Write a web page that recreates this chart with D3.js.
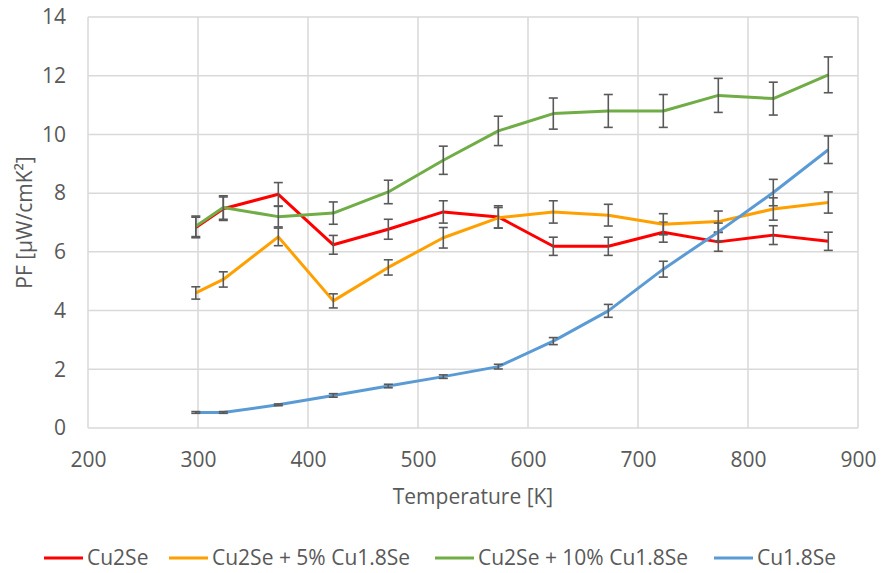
<!DOCTYPE html>
<html>
<head>
<meta charset="utf-8">
<script src="https://cdn.jsdelivr.net/npm/d3@7"></script>
<style>
  html, body { margin: 0; padding: 0; background: #fff; }
  svg { display: block; }
  text { font-family: "Open Sans", sans-serif; fill: #595959; }
</style>
</head>
<body>
<script>
// Temperatures (K) at which the power factor was measured
const temperatures = [298, 323, 373, 423, 473, 523, 573, 623, 673, 723, 773, 823, 873];

// Power factor (µW/cmK²) per sample, with symmetric error
const pfCu2Se      = [6.83, 7.47, 7.96, 6.24, 6.77, 7.36, 7.19, 6.19, 6.19, 6.67, 6.34, 6.57, 6.36];
const errCu2Se     = [0.35, 0.40, 0.40, 0.32, 0.34, 0.38, 0.38, 0.31, 0.31, 0.34, 0.32, 0.32, 0.31];
const pfMix5       = [4.60, 5.06, 6.51, 4.33, 5.47, 6.48, 7.16, 7.36, 7.25, 6.94, 7.03, 7.46, 7.68];
const errMix5      = [0.21, 0.26, 0.30, 0.24, 0.26, 0.35, 0.35, 0.38, 0.37, 0.36, 0.36, 0.38, 0.36];
const pfMix10      = [6.87, 7.51, 7.20, 7.32, 8.04, 9.12, 10.12, 10.71, 10.80, 10.80, 11.33, 11.22, 12.03];
const errMix10     = [0.35, 0.40, 0.35, 0.38, 0.40, 0.48, 0.50, 0.53, 0.56, 0.56, 0.58, 0.56, 0.61];
const pfCu18Se     = [0.53, 0.53, 0.79, 1.11, 1.43, 1.75, 2.09, 2.96, 3.99, 5.41, 6.68, 8.02, 9.48];
const errCu18Se    = [0.03, 0.03, 0.03, 0.06, 0.06, 0.06, 0.08, 0.12, 0.22, 0.27, 0.30, 0.45, 0.47];

const seriesNames  = ["Cu2Se", "Cu2Se + 5% Cu1.8Se", "Cu2Se + 10% Cu1.8Se", "Cu1.8Se"];
const seriesColors = ["#FF0000", "#FFA000", "#70AD47", "#5B9BD5"];

const xTicks = [200, 300, 400, 500, 600, 700, 800, 900];
const yTicks = [0, 2, 4, 6, 8, 10, 12, 14];

const series = [
  { name: seriesNames[0], color: seriesColors[0], values: pfCu2Se,  errors: errCu2Se },
  { name: seriesNames[1], color: seriesColors[1], values: pfMix5,   errors: errMix5 },
  { name: seriesNames[2], color: seriesColors[2], values: pfMix10,  errors: errMix10 },
  { name: seriesNames[3], color: seriesColors[3], values: pfCu18Se, errors: errCu18Se }
];

const W = 882, H = 573;
const plot = { left: 88, right: 858, top: 17, bottom: 428 };

const svg = d3.select("body").append("svg").attr("width", W).attr("height", H);

const x = d3.scaleLinear().domain([200, 900]).range([plot.left, plot.right]);
const y = d3.scaleLinear().domain([0, 14]).range([plot.bottom, plot.top]);

// Gridlines
const grid = svg.append("g");
grid.selectAll("line.h").data(yTicks).join("line")
  .attr("x1", plot.left).attr("x2", plot.right)
  .attr("y1", d => y(d)).attr("y2", d => y(d))
  .attr("stroke", "#D9D9D9").attr("stroke-width", 1.5);
grid.selectAll("line.v").data(xTicks).join("line")
  .attr("y1", plot.top).attr("y2", plot.bottom)
  .attr("x1", d => x(d)).attr("x2", d => x(d))
  .attr("stroke", "#D9D9D9").attr("stroke-width", 1.5);

// Axes (labels only; lines come from the grid)
const xAxis = svg.append("g")
  .attr("transform", `translate(0,${plot.bottom})`)
  .call(d3.axisBottom(x).tickValues(xTicks).tickSize(0).tickPadding(24).tickFormat(d3.format("d")));
const yAxis = svg.append("g")
  .attr("transform", `translate(${plot.left},0)`)
  .call(d3.axisLeft(y).tickValues(yTicks).tickSize(0).tickPadding(22).tickFormat(d3.format("d")));
[xAxis, yAxis].forEach(a => {
  a.select(".domain").remove();
  a.selectAll("text").attr("font-size", 21).attr("font-family", "Open Sans, sans-serif").attr("fill", "#595959");
});

// Axis titles
svg.append("text")
  .attr("x", (plot.left + plot.right) / 2).attr("y", 504)
  .attr("text-anchor", "middle").attr("font-size", 21)
  .text("Temperature [K]");
svg.append("text")
  .attr("transform", `translate(32,${(plot.top + plot.bottom) / 2}) rotate(-90)`)
  .attr("text-anchor", "middle").attr("font-size", 21)
  .text("PF [µW/cmK²]");

// Series lines with error bars
const line = d3.line().x((d, i) => x(temperatures[i])).y(d => y(d));
series.forEach(s => {
  const g = svg.append("g");
  g.append("path")
    .attr("d", line(s.values))
    .attr("fill", "none").attr("stroke", s.color)
    .attr("stroke-width", 3).attr("stroke-linejoin", "round");
  const bars = g.selectAll("g.err").data(s.values.map((v, i) => ({ t: temperatures[i], v, e: s.errors[i] })))
    .join("g").attr("stroke", "#595959").attr("stroke-width", 1.6);
  bars.append("line")
    .attr("x1", d => x(d.t)).attr("x2", d => x(d.t))
    .attr("y1", d => y(d.v - d.e)).attr("y2", d => y(d.v + d.e));
  bars.append("line")
    .attr("x1", d => x(d.t) - 4.5).attr("x2", d => x(d.t) + 4.5)
    .attr("y1", d => y(d.v + d.e)).attr("y2", d => y(d.v + d.e));
  bars.append("line")
    .attr("x1", d => x(d.t) - 4.5).attr("x2", d => x(d.t) + 4.5)
    .attr("y1", d => y(d.v - d.e)).attr("y2", d => y(d.v - d.e));
});

// Legend
const legendX = [44, 169, 435, 714];
const legend = svg.append("g");
series.forEach((s, i) => {
  legend.append("line")
    .attr("x1", legendX[i]).attr("x2", legendX[i] + 39)
    .attr("y1", 558).attr("y2", 558)
    .attr("stroke", s.color).attr("stroke-width", 3);
  legend.append("text")
    .attr("x", legendX[i] + 43).attr("y", 558).attr("dy", "0.35em")
    .attr("font-size", 21)
    .text(s.name);
});
</script>
</body>
</html>
